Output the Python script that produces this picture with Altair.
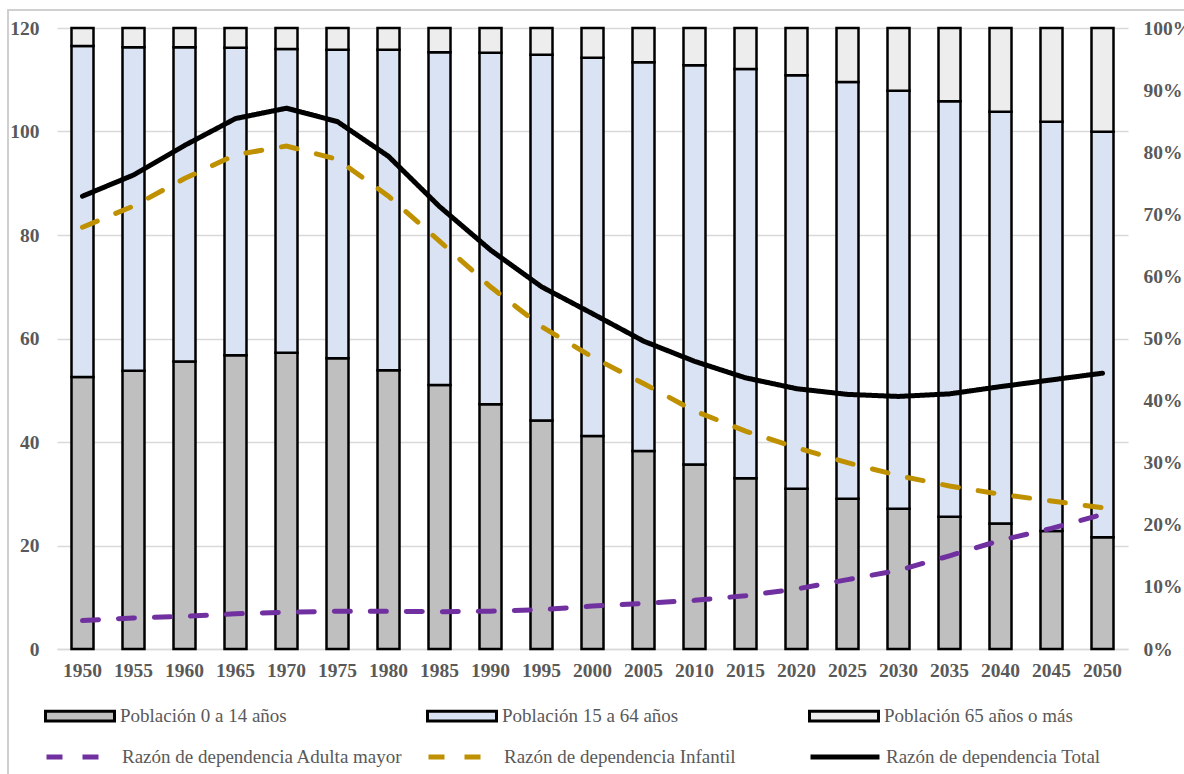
import altair as alt
import pandas as pd

years = ["1950", "1955", "1960", "1965", "1970", "1975", "1980", "1985", "1990", "1995",
         "2000", "2005", "2010", "2015", "2020", "2025", "2030", "2035", "2040", "2045", "2050"]

# Population shares (%) — stacked bars, right axis
p0_14 = [43.8, 44.8, 46.3, 47.3, 47.7, 46.8, 44.9, 42.5, 39.4, 36.8, 34.3,
         31.9, 29.7, 27.5, 25.8, 24.2, 22.6, 21.3, 20.2, 19.0, 18.0]
p15_64 = [53.3, 52.1, 50.6, 49.5, 48.9, 49.7, 51.6, 53.6, 56.6, 58.9, 60.9,
          62.6, 64.3, 65.9, 66.6, 67.1, 67.3, 66.9, 66.3, 65.9, 65.3]
p65 = [2.9, 3.1, 3.1, 3.2, 3.4, 3.5, 3.5, 3.9, 4.0, 4.3, 4.8,
       5.5, 6.0, 6.6, 7.6, 8.7, 10.1, 11.8, 13.5, 15.1, 16.7]

# Dependency ratios — lines, left axis
rd_adulta = [5.5, 6.0, 6.3, 6.8, 7.1, 7.3, 7.3, 7.2, 7.3, 7.6, 8.3,
             8.8, 9.4, 10.3, 11.6, 13.4, 15.2, 18.0, 21.0, 23.3, 26.0]
rd_infantil = [81.5, 85.6, 90.9, 95.5, 97.2, 94.6, 87.5, 78.8, 70.0, 62.3, 56.4,
               51.3, 46.0, 42.1, 38.9, 36.0, 33.5, 31.5, 29.9, 28.6, 27.3]
rd_total = [87.5, 91.6, 97.3, 102.5, 104.5, 101.9, 95.2, 85.5, 77.1, 70.0, 64.8,
            59.5, 55.6, 52.4, 50.3, 49.2, 48.8, 49.3, 50.7, 52.0, 53.3]

bar_groups = ["Población 0 a 14 años", "Población 15 a 64 años", "Población 65 años o más"]
bar_colors = ["#BFBFBF", "#DAE3F3", "#EDEDED"]
line_series = ["Razón de dependencia Adulta mayor", "Razón de dependencia Infantil",
               "Razón de dependencia Total"]
line_colors = ["#7030A0", "#BF9000", "#000000"]

bars_rows = []
for i, y in enumerate(years):
    for k, (g, v) in enumerate(zip(bar_groups, [p0_14[i], p15_64[i], p65[i]])):
        bars_rows.append({"year": y, "grupo": g, "valor": v, "orden": k})
bars_df = pd.DataFrame(bars_rows)

lines_rows = []
for i, y in enumerate(years):
    for s, v in zip(line_series, [rd_adulta[i], rd_infantil[i], rd_total[i]]):
        lines_rows.append({"year": y, "serie": s, "valor": v})
lines_df = pd.DataFrame(lines_rows)

FONT = "Liberation Serif"
GREY = "#595959"
AX = 19.5
LG = 19

xenc = alt.X("year:N", sort=years, title=None,
             scale=alt.Scale(paddingInner=0, paddingOuter=0),
             axis=alt.Axis(labelAngle=0, labelFont=FONT, labelFontSize=AX, labelFontWeight="bold",
                           labelColor=GREY, ticks=False, labelPadding=12,
                           domainColor="#D9D9D9", domainWidth=1.5))

bars = alt.Chart(bars_df).mark_bar(size=22, stroke="black", strokeWidth=2.5).encode(
    x=xenc,
    y=alt.Y("valor:Q", stack="zero", title=None,
            scale=alt.Scale(domain=[0, 100], nice=False),
            axis=alt.Axis(orient="right", values=[0, 10, 20, 30, 40, 50, 60, 70, 80, 90, 100],
                          labelExpr="datum.value + '%'", grid=False, domain=False, ticks=False,
                          labelFont=FONT, labelFontSize=AX, labelFontWeight="bold",
                          labelColor=GREY, labelPadding=15)),
    fill=alt.Fill("grupo:N", scale=alt.Scale(domain=bar_groups, range=bar_colors),
                  legend=alt.Legend(title=None, orient="none", direction="horizontal",
                                    legendX=-13, legendY=652, gridAlign="all", columnPadding=112,
                                    symbolType="M-1,-0.14L1,-0.14L1,0.14L-1,0.14Z", symbolSize=4761,
                                    symbolStrokeColor="black", symbolStrokeWidth=3,
                                    labelFont=FONT, labelFontSize=LG, labelColor=GREY,
                                    labelOffset=4, labelLimit=400)),
    order=alt.Order("orden:Q"),
)

lines = alt.Chart(lines_df).mark_line(strokeWidth=5, strokeCap="round").encode(
    x=xenc,
    y=alt.Y("valor:Q", title=None, scale=alt.Scale(domain=[0, 120], nice=False),
            axis=alt.Axis(orient="left", values=[0, 20, 40, 60, 80, 100, 120], grid=True,
                          gridColor="#D9D9D9", gridWidth=1.5, domain=False, ticks=False,
                          labelFont=FONT, labelFontSize=AX, labelFontWeight="bold",
                          labelColor=GREY, labelPadding=18)),
    color=alt.Color("serie:N", scale=alt.Scale(domain=line_series, range=line_colors),
                    legend=alt.Legend(title=None, orient="none", direction="horizontal",
                                      legendX=-13, legendY=692, gridAlign="all", columnPadding=15,
                                      symbolType="stroke", symbolSize=4761, symbolStrokeWidth=5,
                                      labelFont=FONT, labelFontSize=LG, labelColor=GREY,
                                      labelOffset=4, labelLimit=400)),
    strokeDash=alt.StrokeDash("serie:N", scale=alt.Scale(domain=line_series,
                                                         range=[[16, 20], [16, 20], [1, 0]]),
                              legend=None),
    strokeWidth=alt.StrokeWidth("serie:N", scale=alt.Scale(domain=line_series, range=[5, 5, 3]),
                                legend=None),
)

frame_df = pd.DataFrame({"k": [0]})
frame = alt.Chart(frame_df).mark_rect(fill=None, stroke="#D0D0D0", strokeWidth=2).encode(
    x=alt.value(-49), x2=alt.value(1200), y=alt.value(-18), y2=alt.value(800))

chart = alt.layer(frame, bars, lines).resolve_scale(
    y="independent", color="independent", fill="independent", strokeDash="independent"
).properties(
    width=1071, height=621,
    autosize=alt.AutoSizeParams(type="none"),
    padding={"left": 57, "top": 28, "right": 56, "bottom": 125},
).configure_view(stroke=None)

chart.save("out.html", embed_options={"renderer": "svg", "actions": False})
